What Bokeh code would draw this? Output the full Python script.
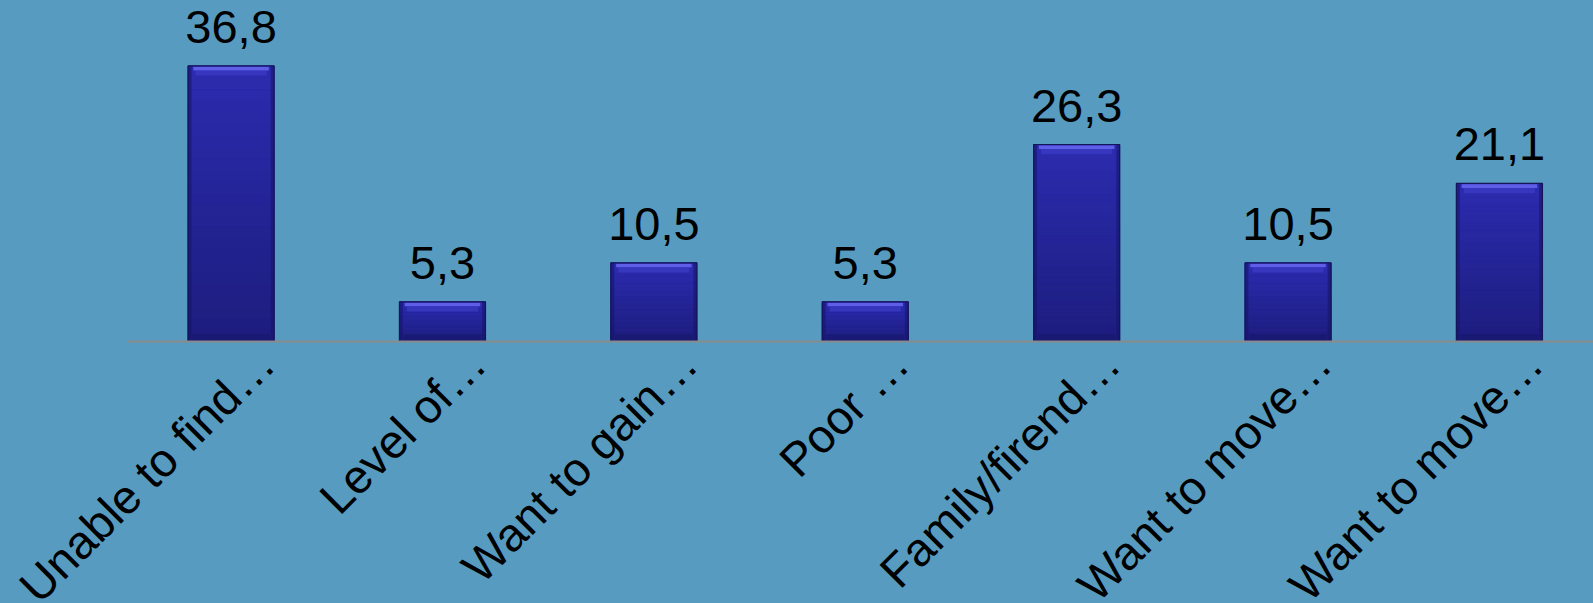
import math
from bokeh.plotting import figure
from bokeh.models import Range1d, FixedTicker, ColumnDataSource
from bokeh.core.properties import value
from bokeh.embed import file_html
from bokeh.resources import INLINE

categories = ["Unable to find…", "Level of…", "Want to gain…", "Poor …",
              "Family/firend…", "Want to move…", "Want to move…"]
values = [36.8, 5.3, 10.5, 5.3, 26.3, 10.5, 21.1]
value_labels = ["36,8", "5,3", "10,5", "5,3", "26,3", "10,5", "21,1"]

BG = "#579cc0"
xs = list(range(len(categories)))
BAR_W = 0.407

p = figure(frame_width=1466, frame_height=341,
           x_range=Range1d(-0.490, 6.445), y_range=Range1d(0, 45.53),
           output_backend="svg", toolbar_location=None,
           min_border_left=127, min_border_right=0, min_border_top=0, min_border_bottom=0,
           background_fill_color=BG, border_fill_color=BG, outline_line_color=None)
p.grid.visible = False
p.yaxis.visible = False

# gradient bars
N = 24
c_top = (0x2c, 0x2c, 0xb0)
c_bot = (0x1d, 0x1d, 0x7e)
for k in range(N):
    t = (k + 0.5) / N
    col = tuple(int(c_bot[i] + (c_top[i] - c_bot[i]) * t) for i in range(3))
    hexc = "#%02x%02x%02x" % col
    p.vbar(x=xs, bottom=[v * k / N for v in values], top=[v * (k + 1) / N for v in values],
           width=BAR_W, fill_color=hexc, line_color=hexc, line_width=1)
# darker side edges
p.vbar(x=[x - BAR_W / 2 + 0.008 for x in xs], top=values, width=0.016,
       fill_color="#16166a", line_color=None, fill_alpha=0.6)
p.vbar(x=[x + BAR_W / 2 - 0.008 for x in xs], top=values, width=0.016,
       fill_color="#16166a", line_color=None, fill_alpha=0.6)
# bevel highlight at top
p.vbar(x=xs, top=[v - 0.12 for v in values], bottom=[v - 0.6 for v in values],
       width=BAR_W - 0.05, fill_color="#6464ee", line_color=None, fill_alpha=0.9)
p.vbar(x=xs, top=[v - 0.6 for v in values], bottom=[v - 1.3 for v in values],
       width=BAR_W - 0.07, fill_color="#3c3cc6", line_color=None, fill_alpha=0.7)
# bottom dark bevel
p.vbar(x=xs, top=[1.0 for v in values], bottom=[0.05 for v in values],
       width=BAR_W - 0.04, fill_color="#17176c", line_color=None, fill_alpha=0.6)
# outline
p.vbar(x=xs, top=values, width=BAR_W, fill_color=None, line_color="#15155a", line_width=1.2)

src = ColumnDataSource(dict(x=xs, y=values, t=value_labels))
p.text(x="x", y="y", text="t", source=src, text_align="center", text_baseline="bottom",
       y_offset=-23, text_font=value("Liberation Sans"), text_font_size="47px",
       text_color="black")

ax = p.xaxis[0]
tick_pos = [x + 0.165 for x in xs]
ax.ticker = FixedTicker(ticks=tick_pos)
ax.major_label_overrides = {t: c for t, c in zip(tick_pos, categories)}
ax.major_label_orientation = math.pi / 4
ax.major_label_text_font = "Liberation Sans"
ax.major_label_text_font_size = "47px"
ax.major_label_text_color = "black"
ax.major_tick_line_color = None
ax.minor_tick_line_color = None
ax.axis_line_color = "#8a8a8a"
ax.axis_line_width = 2
ax.major_label_standoff = 8

html = file_html(p, INLINE)
html = html.replace("<head>", "<head><style>html,body{overflow:hidden;background:%s;}</style>" % BG, 1)
open("out.html", "w").write(html)
